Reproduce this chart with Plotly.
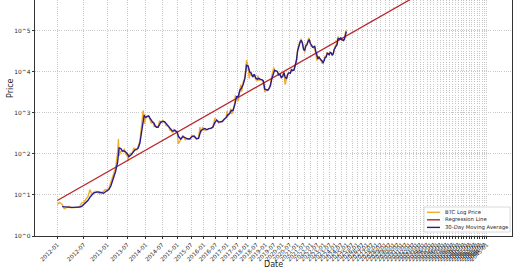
import pandas as pd
import plotly.graph_objects as go

GENESIS = pd.Timestamp("2009-01-03")

# ---------------- data ----------------
price_dates = [
    "2012-01-01", "2012-01-15", "2012-02-01", "2012-02-15", "2012-03-01", "2012-03-15",
    "2012-04-01", "2012-04-15", "2012-05-01", "2012-05-15", "2012-06-01", "2012-06-15",
    "2012-07-01", "2012-07-15", "2012-08-01", "2012-08-15", "2012-09-01", "2012-09-15",
    "2012-10-01", "2012-10-15", "2012-11-01", "2012-11-15", "2012-12-01", "2012-12-15",
    "2013-01-01", "2013-01-15", "2013-02-01", "2013-02-15", "2013-03-01", "2013-03-15",
    "2013-04-01", "2013-04-09", "2013-04-15", "2013-05-01", "2013-05-15", "2013-06-01",
    "2013-06-15", "2013-07-01", "2013-07-06", "2013-07-15", "2013-08-01", "2013-08-15",
    "2013-09-01", "2013-09-15", "2013-10-01", "2013-10-15", "2013-11-01", "2013-11-15",
    "2013-12-01", "2013-12-04", "2013-12-15", "2013-12-18", "2013-12-31",
    "2014-01-15", "2014-02-01", "2014-02-15", "2014-03-01", "2014-03-15",
    "2014-04-01", "2014-04-15", "2014-05-01", "2014-05-15", "2014-06-01", "2014-06-15",
    "2014-07-01", "2014-07-15", "2014-08-01", "2014-08-15", "2014-09-01", "2014-09-15",
    "2014-10-01", "2014-10-15", "2014-11-01", "2014-11-15", "2014-12-01", "2014-12-15",
    "2015-01-01", "2015-01-14", "2015-02-15", "2015-03-15", "2015-04-15", "2015-05-15",
    "2015-06-15", "2015-07-15", "2015-08-15", "2015-09-15", "2015-10-15", "2015-11-04",
    "2015-11-15", "2015-12-15",
    "2016-01-15", "2016-02-15", "2016-03-15", "2016-04-15", "2016-05-15", "2016-06-17",
    "2016-07-15", "2016-08-15", "2016-09-15", "2016-10-15", "2016-11-15", "2016-12-15",
    "2017-01-05", "2017-01-15", "2017-02-15", "2017-03-03", "2017-03-24", "2017-04-15",
    "2017-05-15", "2017-05-25", "2017-06-15", "2017-07-15", "2017-08-15", "2017-09-01",
    "2017-09-15", "2017-10-15", "2017-11-15", "2017-12-17",
    "2018-01-15", "2018-02-06", "2018-02-15", "2018-03-15", "2018-04-15", "2018-05-15",
    "2018-06-15", "2018-07-15", "2018-07-25", "2018-08-15", "2018-09-15", "2018-10-15",
    "2018-11-15", "2018-12-15",
    "2019-01-15", "2019-02-15", "2019-03-15", "2019-04-15", "2019-05-15", "2019-06-26",
    "2019-07-15", "2019-08-15", "2019-09-15", "2019-10-15", "2019-11-15", "2019-12-15",
    "2020-01-15", "2020-02-15", "2020-03-13", "2020-04-15", "2020-05-15", "2020-06-15",
    "2020-07-15", "2020-08-15", "2020-09-15", "2020-10-15", "2020-11-15", "2020-12-15",
    "2021-01-15", "2021-02-15", "2021-03-15", "2021-04-14", "2021-05-15", "2021-06-15",
    "2021-07-20", "2021-08-15", "2021-09-15", "2021-10-15", "2021-11-10", "2021-12-15",
    "2022-01-15", "2022-02-15", "2022-03-15", "2022-04-15", "2022-05-15", "2022-06-18",
    "2022-07-15", "2022-08-15", "2022-09-15", "2022-10-15", "2022-11-21", "2022-12-15",
    "2023-01-15", "2023-02-15", "2023-03-15", "2023-04-15", "2023-05-15", "2023-06-15",
    "2023-07-15", "2023-08-15", "2023-09-15", "2023-10-15", "2023-11-15", "2023-12-15",
    "2024-01-15", "2024-02-15", "2024-03-14", "2024-04-15", "2024-05-15", "2024-06-15",
    "2024-07-15", "2024-08-15", "2024-09-15", "2024-10-15", "2024-11-15", "2024-12-05",
    "2024-12-15",
]
price_values = [
    5.9, 6.6, 5.9, 4.6, 4.9, 5.3,
    4.9, 4.9, 5.0, 5.0, 5.3, 6.4,
    6.7, 7.6, 9.4, 13.5, 10.2, 11.8,
    12.4, 11.8, 10.6, 11.2, 12.6, 13.4,
    13.5, 14.3, 20.4, 27, 34, 47,
    104, 230, 90, 116, 115, 129,
    100, 88, 68, 98, 104, 99,
    140, 127, 126, 150, 205, 420,
    1000, 1150, 850, 540, 750,
    850, 830, 650, 560, 630,
    470, 500, 450, 445, 650, 590,
    640, 620, 590, 500, 475, 475,
    385, 395, 325, 400, 380, 345,
    315, 175, 235, 285, 222, 237,
    233, 285, 261, 230, 255, 450,
    330, 455,
    375, 405, 415, 430, 455, 750,
    665, 570, 610, 640, 710, 780,
    1130, 820, 1000, 1280, 940, 1180,
    1750, 2700, 2450, 1950, 4300, 4900,
    3300, 5700, 7300, 19500,
    13500, 6900, 10200, 8200, 8000, 8500,
    6500, 6300, 8200, 6300, 6500, 6450,
    5600, 3250,
    3600, 3600, 3900, 5100, 8000, 12900,
    10800, 10300, 10300, 8300, 8500, 7100,
    8800, 9900, 4900, 6900, 9300, 9400,
    9200, 11800, 10800, 11500, 16000, 19400,
    36000, 48000, 56000, 64000, 48000, 40000,
    29800, 46000, 47000, 60000, 68000, 49000,
    43000, 44000, 39000, 40000, 29500, 19000,
    20800, 24000, 20200, 19100, 15800, 17400,
    20900, 24300, 24400, 30400, 27200, 25600,
    30300, 29200, 26600, 27100, 35500, 41900,
    42500, 52000, 73000, 63500, 66000, 66000,
    64800, 58900, 60000, 67000, 90000, 103000,
    101000,
]

ma_dates = [
    "2012-02-01", "2012-02-15", "2012-03-01", "2012-03-15",
    "2012-04-01", "2012-04-15", "2012-05-01", "2012-05-15", "2012-06-01", "2012-06-15",
    "2012-07-01", "2012-07-15", "2012-08-01", "2012-08-15", "2012-09-01", "2012-09-15",
    "2012-10-01", "2012-10-15", "2012-11-01", "2012-11-15", "2012-12-01", "2012-12-15",
    "2013-01-01", "2013-01-15", "2013-02-01", "2013-02-15", "2013-03-01", "2013-03-15",
    "2013-04-01", "2013-04-15", "2013-05-01", "2013-05-15", "2013-06-01", "2013-06-15",
    "2013-07-01", "2013-07-15", "2013-08-01", "2013-08-15", "2013-09-01", "2013-09-15",
    "2013-10-01", "2013-10-15", "2013-11-01", "2013-11-15", "2013-12-01", "2013-12-15",
    "2013-12-31", "2014-01-15", "2014-02-01", "2014-02-15", "2014-03-01", "2014-03-15",
    "2014-04-01", "2014-04-15", "2014-05-01", "2014-05-15", "2014-06-01", "2014-06-15",
    "2014-07-01", "2014-07-15", "2014-08-01", "2014-08-15", "2014-09-01", "2014-09-15",
    "2014-10-01", "2014-10-15", "2014-11-01", "2014-11-15", "2014-12-01", "2014-12-15",
    "2015-01-01", "2015-01-15", "2015-02-15", "2015-03-15", "2015-04-15", "2015-05-15",
    "2015-06-15", "2015-07-15", "2015-08-15", "2015-09-15", "2015-10-15", "2015-11-15",
    "2015-12-15",
    "2016-01-15", "2016-02-15", "2016-03-15", "2016-04-15", "2016-05-15", "2016-06-15",
    "2016-07-15", "2016-08-15", "2016-09-15", "2016-10-15", "2016-11-15", "2016-12-15",
    "2017-01-15", "2017-02-15", "2017-03-15", "2017-04-15", "2017-05-15", "2017-06-15",
    "2017-07-15", "2017-08-15", "2017-09-15", "2017-10-15", "2017-11-15", "2017-12-15",
    "2018-01-15", "2018-02-15", "2018-03-15", "2018-04-15", "2018-05-15", "2018-06-15",
    "2018-07-15", "2018-08-15", "2018-09-15", "2018-10-15", "2018-11-15", "2018-12-15",
    "2019-01-15", "2019-02-15", "2019-03-15", "2019-04-15", "2019-05-15", "2019-06-15",
    "2019-07-15", "2019-08-15", "2019-09-15", "2019-10-15", "2019-11-15", "2019-12-15",
    "2020-01-15", "2020-02-15", "2020-03-15", "2020-04-15", "2020-05-15", "2020-06-15",
    "2020-07-15", "2020-08-15", "2020-09-15", "2020-10-15", "2020-11-15", "2020-12-15",
    "2021-01-15", "2021-02-15", "2021-03-15", "2021-04-15", "2021-05-15", "2021-06-15",
    "2021-07-15", "2021-08-15", "2021-09-15", "2021-10-15", "2021-11-15", "2021-12-15",
    "2022-01-15", "2022-02-15", "2022-03-15", "2022-04-15", "2022-05-15", "2022-06-15",
    "2022-07-15", "2022-08-15", "2022-09-15", "2022-10-15", "2022-11-15", "2022-12-15",
    "2023-01-15", "2023-02-15", "2023-03-15", "2023-04-15", "2023-05-15", "2023-06-15",
    "2023-07-15", "2023-08-15", "2023-09-15", "2023-10-15", "2023-11-15", "2023-12-15",
    "2024-01-15", "2024-02-15", "2024-03-15", "2024-04-15", "2024-05-15", "2024-06-15",
    "2024-07-15", "2024-08-15", "2024-09-15", "2024-10-15", "2024-11-15", "2024-12-15",
]
ma_values = [
    5.2, 5.1, 5.0, 5.0,
    5.0, 5.0, 5.0, 5.0, 5.1, 5.3,
    5.9, 6.6, 7.4, 8.8, 10.5, 11.3,
    11.6, 11.9, 11.7, 11.2, 11.0, 11.8,
    13.0, 13.6, 16.5, 22, 29, 38,
    62, 140, 135, 118, 118, 112,
    100, 86, 93, 102, 118, 128,
    131, 140, 185, 300, 620, 880,
    780, 820, 850, 750, 640, 600,
    560, 470, 450, 450, 520, 600,
    610, 625, 610, 560, 500, 480,
    430, 380, 360, 360, 380, 360,
    340, 270, 230, 265, 245, 235,
    232, 265, 275, 235, 240, 360,
    400,
    420, 390, 415, 420, 450, 580,
    670, 600, 600, 620, 700, 760,
    900, 970, 1150, 1150, 1600, 2500,
    2500, 3600, 4100, 5000, 7000, 14500,
    14000, 10000, 9500, 7500, 8800, 7000,
    6700, 7000, 6600, 6500, 6100, 3800,
    3700, 3550, 3900, 4700, 6800, 8500,
    11000, 10600, 10300, 8600, 8800, 7300,
    7800, 9600, 7500, 6800, 8800, 9500,
    9300, 11300, 10800, 11000, 15000, 19000,
    33000, 43000, 52000, 59000, 52000, 36000,
    33500, 43000, 46500, 55000, 62000, 50000,
    44000, 40000, 40500, 42000, 32000, 26000,
    21000, 23000, 20500, 19500, 18500, 17000,
    19000, 22800, 23000, 28500, 28000, 26500,
    30000, 29000, 26000, 27500, 35000, 41000,
    43000, 46000, 64000, 66000, 63000, 67000,
    61000, 60500, 58500, 64000, 78000, 97000,
]

reg_dates = ["2012-01-01", "2045-01-01"]
reg_values = [7.36, 6.8e6]

tick_labels = [
    "2012-01", "2012-07", "2013-01", "2013-07", "2014-01", "2014-07", "2015-01", "2015-07",
    "2016-01", "2016-07", "2017-01", "2017-07", "2018-01", "2018-07", "2019-01", "2019-07",
    "2020-01", "2020-07", "2021-01", "2021-07", "2022-01", "2022-07", "2023-01", "2023-07",
    "2024-01", "2024-07", "2025-01", "2025-07", "2026-01", "2026-07", "2027-01", "2027-07",
    "2028-01", "2028-07", "2029-01", "2029-07", "2030-01", "2030-07", "2031-01", "2031-07",
    "2032-01", "2032-07", "2033-01", "2033-07", "2034-01", "2034-07", "2035-01", "2035-07",
    "2036-01", "2036-07", "2037-01", "2037-07", "2038-01", "2038-07", "2039-01", "2039-07",
    "2040-01", "2040-07", "2041-01", "2041-07", "2042-01", "2042-07", "2043-01", "2043-07",
    "2044-01", "2044-07", "2045-01",
]
y_tick_values = [1, 10, 100, 1000, 10000, 100000]
y_tick_labels = ["10^0", "10^1", "10^2", "10^3", "10^4", "10^5"]


def days_since_genesis(dates):
    return [(pd.Timestamp(d) - GENESIS).days for d in dates]


tick_vals = days_since_genesis([t + "-01" for t in tick_labels])

C_PRICE = "#F0AE2C"
C_REG = "#B8262B"
C_MA = "#2A1C8E"
FONT = "DejaVu Sans"
TXT = "#262626"
W, H = 520, 272
L, R, T, B = 35, 8, 0, 36
PW, PH = W - L - R, H - T - B

fig = go.Figure()
fig.add_trace(go.Scatter(x=days_since_genesis(price_dates), y=price_values, mode="lines",
                         line=dict(color=C_PRICE, width=1.4), name="BTC Log Price",
                         showlegend=False))
fig.add_trace(go.Scatter(x=days_since_genesis(reg_dates), y=reg_values, mode="lines",
                         line=dict(color=C_REG, width=1.3), name="Regression Line",
                         showlegend=False))
fig.add_trace(go.Scatter(x=days_since_genesis(ma_dates), y=ma_values, mode="lines",
                         line=dict(color=C_MA, width=1.4), name="30-Day Moving Average",
                         showlegend=False))

axis_common = dict(showline=True, linecolor="#333333", linewidth=0.8,
                   ticks="outside", ticklen=2.5, tickwidth=0.6, tickcolor="#333333",
                   showgrid=True, gridcolor="#c8c8c8", gridwidth=0.6, griddash="1px,1.2px",
                   zeroline=False)

fig.update_xaxes(type="log", range=[2.9825, 4.1819], tickmode="array",
                 tickvals=tick_vals, ticktext=tick_labels, tickangle=-45,
                 tickfont=dict(family=FONT, size=5.6, color=TXT),
                 automargin=False, **axis_common)
fig.update_yaxes(type="log", range=[0, 5.755], tickmode="array",
                 tickvals=y_tick_values, ticktext=y_tick_labels, mirror=True,
                 tickfont=dict(family=FONT, size=5.9, color=TXT),
                 automargin=False, **axis_common)


def px_x(px):
    return (px - L) / PW


def px_y(py):
    return (T + PH - py) / PH


# legend (matplotlib style, lower right)
fig.add_shape(type="rect", xref="paper", yref="paper",
              x0=px_x(424), x1=px_x(510), y0=px_y(232), y1=px_y(207),
              line=dict(color="#d0d0d0", width=0.8), fillcolor="rgba(255,255,255,0.85)")
legend_items = [("BTC Log Price", C_PRICE, 212.3), ("Regression Line", C_REG, 219.8),
                ("30-Day Moving Average", C_MA, 227.4)]
for label, col, py in legend_items:
    fig.add_shape(type="line", xref="paper", yref="paper",
                  x0=px_x(427), x1=px_x(440), y0=px_y(py), y1=px_y(py),
                  line=dict(color=col, width=1.4))
    fig.add_annotation(text=label, xref="paper", yref="paper", x=px_x(443), y=px_y(py),
                       xanchor="left", yanchor="middle", showarrow=False,
                       font=dict(family=FONT, size=5.3, color=TXT))

fig.add_annotation(text="Price", xref="paper", yref="paper", x=px_x(10), y=px_y(88),
                   textangle=-90, showarrow=False, xanchor="center", yanchor="middle",
                   font=dict(family=FONT, size=8, color=TXT))
fig.add_annotation(text="Date", xref="paper", yref="paper", x=px_x(273.5), y=px_y(264),
                   showarrow=False, xanchor="center", yanchor="middle",
                   font=dict(family=FONT, size=8, color=TXT))

fig.update_layout(width=W, height=H, margin=dict(l=L, r=R, t=T, b=B, pad=0),
                  paper_bgcolor="white", plot_bgcolor="white", showlegend=False,
                  font=dict(family=FONT))

fig.write_html("out.html")
